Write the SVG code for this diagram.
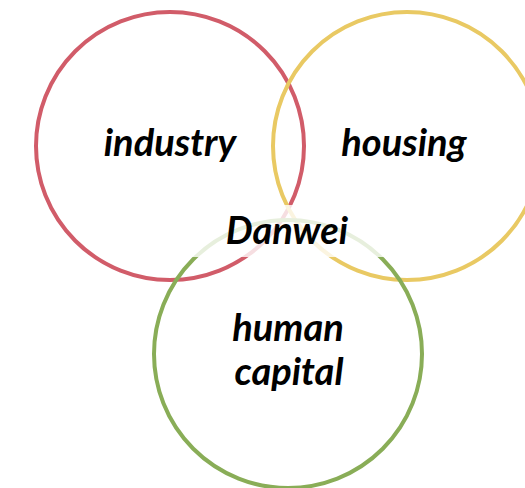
<svg xmlns="http://www.w3.org/2000/svg" width="525" height="488" viewBox="0 0 525 488">
<style>
.ring{fill:none;stroke-width:4}
.lbl{font-family:"Lato","Open Sans","DejaVu Sans",sans-serif;font-weight:bold;font-style:italic;font-size:38px;fill:#000;text-anchor:middle}
</style>
<rect width="525" height="488" fill="#fff"/>
<g id="industry">
<circle class="ring" cx="170" cy="146" r="134" stroke="#d15c69"/>
<text class="lbl" x="170" y="156">industry</text>
</g>
<g id="housing">
<circle class="ring" cx="407" cy="146" r="134" stroke="#e9c963"/>
<text class="lbl" x="404" y="156">housing</text>
</g>
<g id="human-capital">
<circle class="ring" cx="288" cy="354" r="134" stroke="#89ad57"/>
<text class="lbl" x="288" y="341">human</text>
<text class="lbl" x="289" y="385">capital</text>
</g>
<g id="danwei">
<rect x="185" y="205" width="205" height="52" fill="#fff" fill-opacity="0.8"/>
<text class="lbl" x="287" y="244">Danwei</text>
</g>
<g id="connectors"/>
</svg>
